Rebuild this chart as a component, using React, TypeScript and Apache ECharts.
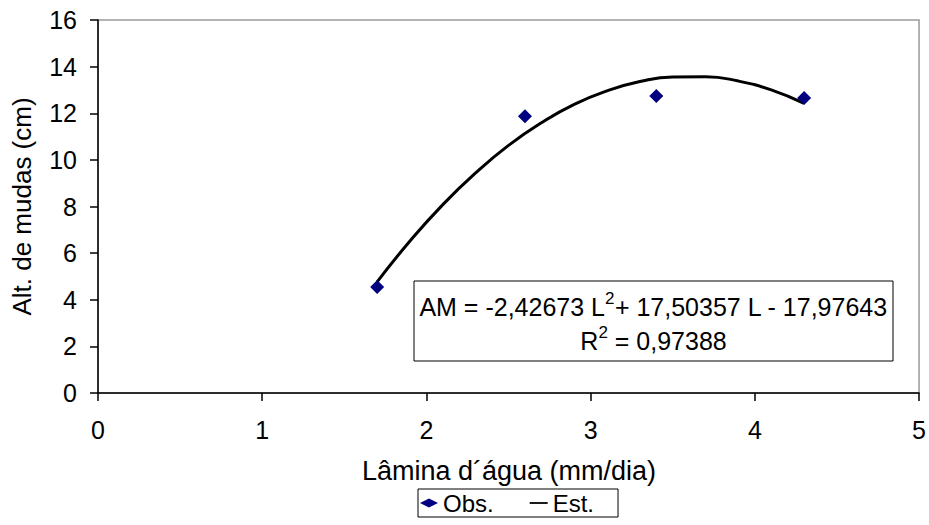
import React, { useEffect, useRef } from "react";
import * as echarts from "echarts";

// Observed points (Lâmina d'água, Alt. de mudas)
const obsLamina = [1.7, 2.6, 3.4, 4.3];
const obsAltura = [4.55, 11.87, 12.74, 12.65];

// Estimated (fitted) curve
const estLamina = [1.7, 1.9, 2.1, 2.3, 2.5, 2.7, 2.9, 3.1, 3.3, 3.5, 3.7, 3.9, 4.1, 4.3];
const estAltura = [4.77, 6.52, 8.08, 9.44, 10.62, 11.59, 12.38, 12.96, 13.36, 13.56, 13.57, 13.38, 13.0, 12.42];

const xTicks = [0, 1, 2, 3, 4, 5];
const yTicks = [0, 2, 4, 6, 8, 10, 12, 14, 16];

const xTitle = "Lâmina d´água (mm/dia)";
const yTitle = "Alt. de mudas (cm)";

const FONT = "'Liberation Sans', Arial, Helvetica, sans-serif";
const FS = 25;

export default function App() {
  const ref = useRef<HTMLDivElement>(null);

  useEffect(() => {
    if (!ref.current) return;
    const chart = echarts.init(ref.current, undefined, { renderer: "svg" });

    const option: any = {
      animation: false,
      backgroundColor: "#fff",
      textStyle: { fontFamily: FONT },
      grid: {
        left: 98,
        top: 20,
        right: 9,
        bottom: 132,
        show: true,
        borderColor: "#9a9a9a",
        borderWidth: 1.5,
        backgroundColor: "transparent",
      },
      xAxis: {
        type: "value",
        min: xTicks[0],
        max: xTicks[xTicks.length - 1],
        interval: 1,
        axisLine: { show: true, lineStyle: { color: "#000", width: 1.5 } },
        axisTick: { show: true, inside: false, length: 8, lineStyle: { color: "#000", width: 1.5 } },
        axisLabel: { fontSize: FS, color: "#000", margin: 24, fontFamily: FONT },
        splitLine: { show: false },
      },
      yAxis: {
        type: "value",
        min: yTicks[0],
        max: yTicks[yTicks.length - 1],
        interval: 2,
        name: yTitle,
        nameLocation: "middle",
        nameGap: 63,
        nameRotate: 90,
        nameTextStyle: { fontSize: 26, color: "#000", fontFamily: FONT },
        axisLine: { show: true, lineStyle: { color: "#000", width: 1.5 } },
        axisTick: { show: true, inside: false, length: 8, lineStyle: { color: "#000", width: 1.5 } },
        axisLabel: { fontSize: FS, color: "#000", margin: 21, fontFamily: FONT },
        splitLine: { show: false },
      },
      legend: {
        left: 418,
        top: 489,
        orient: "horizontal",
        itemWidth: 18,
        itemHeight: 9,
        itemGap: 36,
        padding: [2, 24, 2, 2],
        borderColor: "#000",
        borderWidth: 1,
        backgroundColor: "#fff",
        textStyle: { fontSize: 24, color: "#000", fontFamily: FONT },
        data: [
          { name: "Obs.", icon: "diamond", itemStyle: { color: "#000080", opacity: 1 } },
          { name: "Est.", icon: "path://M0,0 H20 V2 H0 Z", itemStyle: { color: "#000" } },
        ],
      },
      series: [
        {
          name: "Est.",
          type: "line",
          data: estLamina.map((x, i) => [x, estAltura[i]]),
          smooth: 0.5,
          symbol: "none",
          showSymbol: false,
          lineStyle: { color: "#000", width: 3 },
          itemStyle: { color: "#000" },
          z: 2,
        },
        {
          name: "Obs.",
          type: "scatter",
          data: obsLamina.map((x, i) => [x, obsAltura[i]]),
          symbol: "diamond",
          symbolSize: 14,
          itemStyle: { color: "#000080", opacity: 1 },
          z: 3,
        },
      ],
      graphic: [
        {
          type: "text",
          x: 509,
          y: 471,
          z: 10,
          style: {
            text: xTitle,
            align: "center",
            verticalAlign: "middle",
            fontSize: 27,
            fontFamily: FONT,
            fill: "#000",
          },
        },
        {
          type: "group",
          z: 10,
          children: [
            {
              type: "rect",
              shape: { x: 414, y: 281, width: 479, height: 80 },
              style: { fill: "#fff", stroke: "#000", lineWidth: 1 },
            },
            {
              type: "text",
              x: 653.5,
              y: 324,
              style: {
                text:
                  "{n|AM = -2,42673 L}{s|2}{n|+ 17,50357 L - 17,97643}\n{n|R}{s|2}{n| = 0,97388}",
                align: "center",
                verticalAlign: "middle",
                fill: "#000",
                rich: {
                  n: { fontSize: FS, lineHeight: 34, fontFamily: FONT, fill: "#000" },
                  s: { fontSize: 17, lineHeight: 17, verticalAlign: "top", fontFamily: FONT, fill: "#000" },
                },
              },
            },
          ],
        },
      ],
    };

    chart.setOption(option);
    return () => chart.dispose();
  }, []);

  return (
    <div
      ref={ref}
      style={{ position: "absolute", left: 0, top: 0, width: 929, height: 525, background: "#fff" }}
    />
  );
}
